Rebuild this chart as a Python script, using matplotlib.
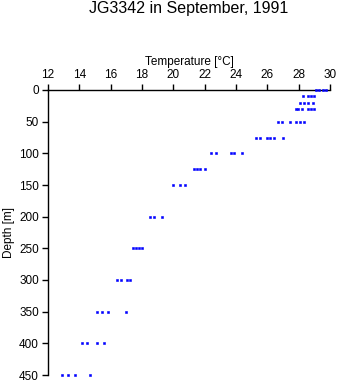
import matplotlib
matplotlib.use("Agg")
import matplotlib.pyplot as plt

plt.rcParams['font.family'] = ['Liberation Sans', 'DejaVu Sans']

# Depth levels [m] and temperatures [°C]
depths = [0, 10, 20, 30, 50, 75, 100, 125, 150, 200, 250, 300, 350, 400, 450]
temps = [
    [29.1, 29.3, 29.55, 29.75],
    [28.3, 28.6, 28.8, 29.0],
    [28.1, 28.35, 28.6, 28.9],
    [27.8, 27.95, 28.2, 28.6, 28.8, 29.0],
    [26.7, 26.95, 27.45, 27.8, 28.1, 28.35],
    [25.3, 25.5, 26.0, 26.2, 26.4, 27.0],
    [22.4, 22.75, 23.7, 23.9, 24.4],
    [21.3, 21.5, 21.7, 22.0],
    [20.0, 20.45, 20.75],
    [18.5, 18.75, 19.25],
    [17.4, 17.6, 17.8, 18.0],
    [16.4, 16.65, 17.05, 17.25],
    [15.1, 15.45, 15.8, 16.95],
    [14.2, 14.5, 15.1, 15.6],
    [12.9, 13.3, 13.7, 14.7],
]
x_ticks = [12, 14, 16, 18, 20, 22, 24, 26, 28, 30]
y_ticks = [0, 50, 100, 150, 200, 250, 300, 350, 400, 450]

title = "JG3342 in September, 1991"
xlabel = "Temperature [\u00b0C]"
ylabel = "Depth [m]"

fig = plt.figure(figsize=(3.41, 3.84), dpi=100)
ax = fig.add_axes([48/341, 1 - 375/384, (330 - 48)/341, (375 - 90)/384])

xs, ys = [], []
for d, ts in zip(depths, temps):
    for t in ts:
        xs.append(t)
        ys.append(d)
ax.plot(xs, ys, linestyle='none', marker='s', markersize=2.0,
        color='#0000ff', markeredgecolor='#0000ff', markeredgewidth=0.4,
        clip_on=False, zorder=5)

ax.set_xlim(12, 30)
ax.set_ylim(450, 0)
ax.xaxis.set_ticks_position('top')
ax.xaxis.set_label_position('top')
ax.set_xticks(x_ticks)
ax.set_yticks(y_ticks)
for s in ['right', 'bottom']:
    ax.spines[s].set_visible(False)
for s in ['left', 'top']:
    ax.spines[s].set_linewidth(1.0)
    ax.spines[s].set_color('black')
    ax.spines[s].set_zorder(1)
ax.tick_params(axis='both', direction='out', length=4, width=1, labelsize=8.5, pad=2.5)
ax.set_xlabel(xlabel, fontsize=8.5, labelpad=3)
ax.set_ylabel(ylabel, fontsize=8.5, labelpad=3)
fig.text(189/341, 1 - 9/384, title, ha='center', va='center', fontsize=11.5)

fig.savefig("out.png", dpi=100)
